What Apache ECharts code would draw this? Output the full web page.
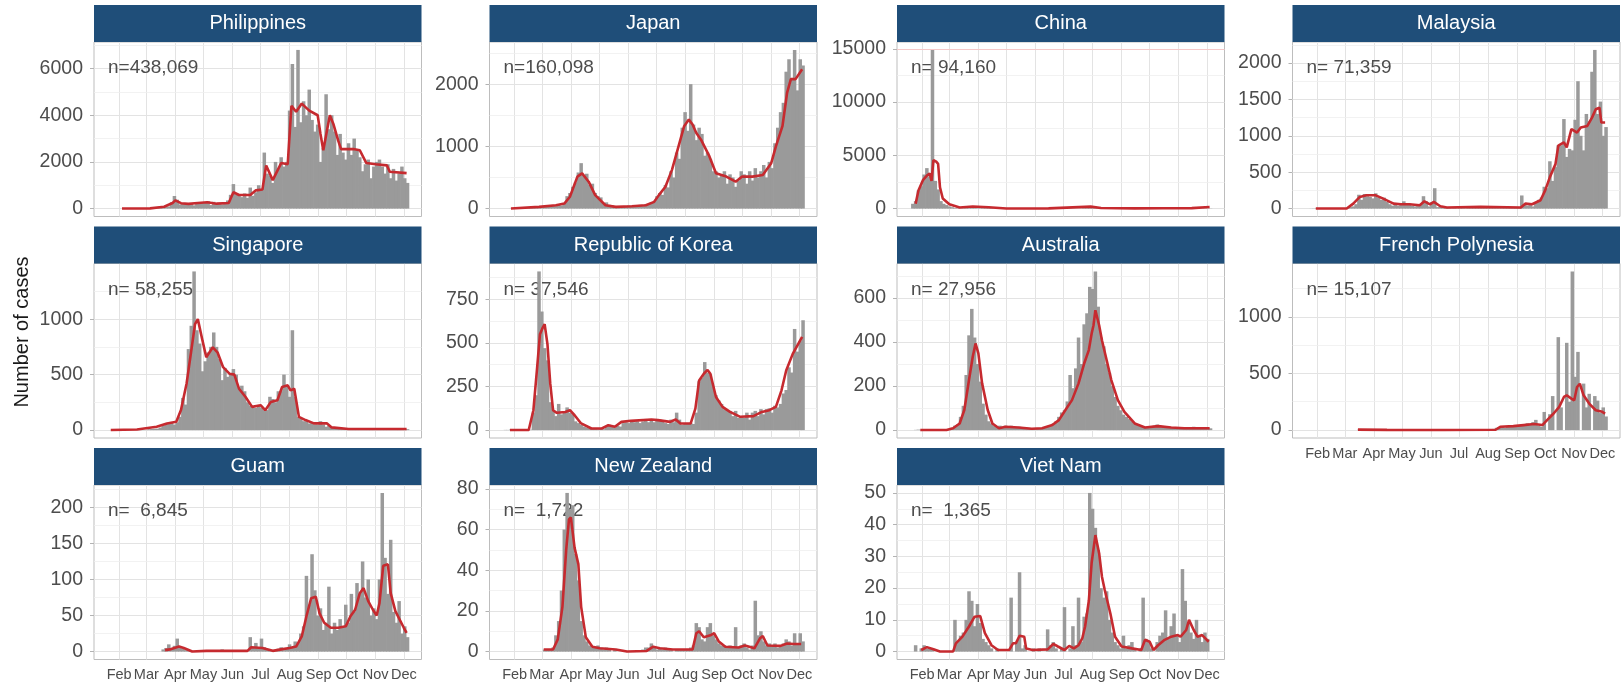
<!DOCTYPE html>
<html><head><meta charset="utf-8"><title>Daily COVID-19 cases</title>
<script src="https://cdn.jsdelivr.net/npm/echarts@6/dist/echarts.min.js"></script>
<style>html,body{margin:0;padding:0;background:#fff}#chart{width:1623px;height:685px}</style>
</head><body><div id="chart"></div>
<script>
// ---------------- DATA ----------------
const countries = ['Philippines','Japan','China','Malaysia','Singapore','Republic of Korea','Australia','French Polynesia','Guam','New Zealand','Viet Nam'];
const nLabels = ['n=438,069','n=160,098','n= 94,160','n= 71,359','n= 58,255','n= 37,546','n= 27,956','n= 15,107','n=  6,845','n=  1,722','n=  1,365'];
const dataFirstDate = '01-21', dataLastDate = '12-04';
const barStartDate = '01-22', barStepDays = 3;
const monthStarts = ['02-01','03-01','04-01','05-01','06-01','07-01','08-01','09-01','10-01','11-01','12-01'];
const monthLabels = ['Feb','Mar','Apr','May','Jun','Jul','Aug','Sep','Oct','Nov','Dec'];

const phBars = [0,0,0,0,0,0,0,0,0,0, 0,0,0,0,0,5,10,30,40,90, 70,90,270,540,380,180,210,230,180,210, 140,210,200,280,250,320,150,290,210,190, 180,260,350,590,1050,600,570,490,650,460, 900,550,700,1000,800,2400,1500,1400,1100,2000, 1700,2200,1800,2000,4200,6200,3500,6800,3700,4600, 4000,5100,3800,3300,3600,2000,2600,4900,3400,4000, 3300,2300,3200,2400,2100,2800,2300,3000,2500,2200, 1600,1900,2100,1300,1800,2000,2100,1800,1500,1900, 1300,1700,1200,1500,1800,1300,1100];
const jpBars = [0,0,1,2,1,0,2,3,6,10, 15,12,20,15,30,40,55,45,40,60, 50,90,200,250,350,420,580,730,520,560, 380,400,250,200,180,90,100,60,50,40, 30,25,30,40,50,40,30,50,60,40, 70,60,100,110,200,250,220,380,340,600, 500,900,800,1300,1550,1250,2000,1350,1100,1300, 1200,850,900,800,600,600,500,550,600,400, 550,500,350,450,600,550,400,600,450,650, 500,600,700,500,750,650,1050,1300,1550,1700, 2200,2400,2100,2550,1900,2400,2300];
const cnBars = [450,700,1700,2100,3200,3800,3000,14900,2600,1800, 700,450,330,200,130,60,30,20,30,60, 70,70,50,40,40,60,80,110,50,20, 10,10,5,5,3,3,5,10,5,8, 5,3,3,2,5,10,5,30,40,20, 25,15,10,8,5,5,10,5,5,10, 20,50,70,110,90,60,30,25,20,15, 15,10,10,10,8,10,10,8,10,10, 10,12,15,10,20,15,20,25,20,30, 20,25,30,25,35,30,25,20,15,20, 15,20,15,20,25,20,15];
const myBars = [0,1,2,3,1,0,0,0,0,1, 0,0,0,0,5,20,30,60,190,120, 200,170,160,140,210,150,120,150,90,60, 40,60,40,60,100,50,70,40,30,40, 50,170,100,30,90,280,20,30,20,10, 10,5,10,5,10,15,5,10,20,10, 15,10,20,20,10,15,20,10,15,20, 10,15,20,15,20,20,180,60,40,70, 30,80,120,150,300,280,650,380,570,870, 870,1230,710,820,800,1220,1750,1000,800,1300, 1200,1880,2180,1300,1470,1000,1120];
const sgBars = [0,2,3,4,3,2,3,2,1,1, 2,1,2,2,8,10,12,13,23,40, 50,60,70,50,70,120,290,230,730,940, 1430,900,780,530,620,700,750,880,750,640, 450,560,480,500,550,500,380,400,350,250, 220,200,200,220,200,180,180,300,280,250, 350,350,500,400,300,900,300,120,100,80, 80,60,70,50,50,80,50,30,40,20, 20,15,10,12,8,10,12,10,8,6, 10,8,6,10,8,12,8,6,10,8, 12,8,10,6,8,10,8];
const krBars = [1,1,3,2,1,3,0,1,1,2, 100,200,910,680,470,400,160,110,80,150, 90,100,130,100,90,50,40,30,20,15, 10,8,10,5,10,5,20,30,20,15, 25,20,40,45,40,50,45,50,40,50, 55,45,55,45,55,60,50,40,35,60, 45,100,60,30,35,35,40,35,100,280, 300,390,330,320,250,200,170,150,120,110, 110,80,110,70,80,70,100,60,100,110, 80,120,90,120,125,100,140,130,150,210, 230,360,330,580,450,510,630];
const auBars = [0,1,2,1,1,0,0,1,0,0, 0,1,2,5,10,20,25,60,110,250, 430,550,420,300,220,120,70,40,30,20, 15,20,15,20,15,20,12,10,15,10, 8,10,6,8,8,10,8,10,15,20, 30,40,60,80,90,130,250,190,280,420, 300,480,530,650,640,720,560,420,380,300, 260,200,150,110,90,70,60,50,40,30, 25,20,15,12,15,18,20,25,20,18, 15,12,12,10,10,8,10,8,10,12, 15,12,10,10,8,10,8];
const fpBars = [0,0,0,0,0,0,0,0,0,0, 0,0,0,0,0,0,0,0,3,5, 8,4,5,3,2,1,1,0,0,0, 0,0,0,0,0,0,0,0,0,0, 0,0,0,0,0,0,0,0,0,0, 0,0,0,0,0,0,0,0,0,0, 0,0,0,0,2,5,10,20,25,30, 20,35,40,30,45,35,50,40,60,45, 70,90,40,30,160,0,140,300,0,820, 200,0,770,250,1400,470,690,0,410,200, 320,0,300,260,150,200,120];
const guBars = [0,0,0,0,0,0,0,0,0,0, 0,0,0,0,0,0,0,0,0,3, 5,10,5,8,18,6,4,2,1,1, 0,0,1,0,0,1,0,0,1,0, 3,0,1,0,1,0,0,0,1,0, 20,6,12,4,18,6,3,2,1,2, 4,6,2,4,10,6,14,12,25,35, 105,65,135,85,50,60,30,40,90,25, 40,30,45,35,65,40,80,55,95,80, 125,75,100,50,60,45,100,220,130,80, 155,55,40,70,25,35,20];
const nzBars = [0,0,0,0,0,0,0,0,0,0, 0,0,0,0,1,1,1,2,8,15, 30,60,78,70,72,48,35,15,8,5, 3,2,2,3,2,1,2,1,0,1, 0,0,0,0,0,0,0,0,0,1, 2,2,4,2,1,2,1,2,1,1, 0,1,1,1,1,1,2,3,14,12, 6,5,12,14,8,6,4,3,3,2, 3,2,12,2,3,4,2,1,3,25, 8,10,5,3,4,3,4,2,3,4, 6,5,3,9,4,9,5];
const vnBars = [0,2,0,1,2,1,1,1,0,0, 0,0,0,0,0,10,3,5,6,10, 19,16,8,15,9,4,3,2,1,0, 1,0,0,0,0,17,0,3,25,1, 2,0,0,1,0,1,0,0,7,2, 3,1,0,1,14,0,1,8,2,17, 3,11,12,50,45,39,32,20,17,19, 10,6,3,2,1,5,1,2,3,1, 0,1,17,4,3,1,0,3,5,6, 13,4,8,12,5,3,26,16,9,6, 4,10,5,3,6,4,0];

const phLine = [['02-04',0],['03-05',10],['03-20',80],['03-29',240],['04-01',350],['04-07',230],['04-15',200],['04-25',240],['05-05',270],['05-15',210],['05-28',240],['06-02',700],['06-08',580],['06-20',580],['06-26',780],['07-03',820],['07-07',1850],['07-14',1220],['07-23',1950],['07-30',1900],['08-03',4400],['08-08',4150],['08-14',4500],['08-22',4200],['08-31',4000],['09-03',3200],['09-06',2500],['09-13',4000],['09-17',3600],['09-22',2900],['09-25',2550],['10-08',2550],['10-15',2500],['10-22',1950],['11-01',1900],['11-13',1850],['11-16',1580],['12-04',1520]];
const jpLine = [['01-28',0],['02-27',27],['03-16',54],['03-25',80],['03-31',190],['04-08',514],['04-13',565],['04-20',432],['04-27',216],['05-08',54],['05-19',27],['06-05',38],['06-20',54],['06-29',108],['07-04',216],['07-11',351],['07-18',622],['07-25',1000],['07-31',1324],['08-05',1430],['08-09',1351],['08-13',1216],['08-18',1108],['08-27',838],['09-03',568],['09-14',514],['09-24',432],['10-01',514],['10-12',514],['10-23',540],['11-01',730],['11-06',1000],['11-13',1324],['11-18',1865],['11-22',2081],['11-27',2081],['12-04',2240]];
const cnLine = [['01-25',450],['01-28',1700],['02-02',2700],['02-06',3100],['02-09',3300],['02-11',2600],['02-13',4550],['02-16',4400],['02-18',4200],['02-20',2000],['02-23',950],['03-01',400],['03-12',100],['03-26',200],['04-12',120],['05-01',10],['06-15',20],['07-30',180],['08-10',60],['09-15',20],['10-15',30],['11-15',40],['12-04',150]];
const myLine = [['01-30',0],['03-03',0],['03-10',68],['03-17',160],['03-24',182],['04-03',182],['04-11',136],['04-22',68],['04-30',59],['05-09',59],['05-20',45],['05-25',100],['05-31',59],['06-04',91],['06-11',32],['06-18',14],['07-24',23],['09-05',14],['09-10',68],['09-17',59],['09-26',114],['10-01',250],['10-06',432],['10-12',614],['10-15',864],['10-21',909],['10-24',841],['10-29',1091],['11-04',1045],['11-08',1114],['11-15',1136],['11-20',1250],['11-24',1364],['11-28',1386],['11-30',1182],['12-04',1182]];
const sgLine = [['01-23',0],['02-20',5],['03-12',30],['03-23',60],['04-02',75],['04-07',180],['04-13',420],['04-18',716],['04-22',955],['04-25',1000],['04-30',806],['05-04',657],['05-11',746],['05-16',701],['05-22',567],['05-29',507],['06-03',500],['06-08',373],['06-15',298],['06-22',209],['07-01',224],['07-06',179],['07-12',254],['07-19',269],['07-24',388],['07-30',403],['08-02',358],['08-06',373],['08-11',119],['08-18',90],['08-27',60],['09-10',60],['09-15',24],['10-03',10],['12-04',9]];
const krLine = [['01-27',0],['02-16',0],['02-21',114],['02-25',360],['02-28',550],['03-02',588],['03-04',607],['03-07',493],['03-10',266],['03-13',114],['03-17',99],['03-26',104],['03-31',114],['04-05',85],['04-12',38],['04-23',9],['05-04',9],['05-11',28],['05-18',19],['05-25',47],['06-04',53],['06-26',61],['07-03',57],['07-16',47],['07-22',61],['07-27',38],['08-07',38],['08-12',123],['08-16',285],['08-21',323],['08-25',345],['08-28',323],['09-03',190],['09-10',133],['09-18',104],['09-29',76],['10-13',80],['10-22',104],['10-30',114],['11-06',133],['11-12',228],['11-17',342],['11-24',437],['12-04',535]];
const auLine = [['01-30',0],['02-27',0],['03-05',8],['03-12',30],['03-17',91],['03-22',227],['03-26',333],['03-29',393],['04-01',348],['04-05',212],['04-11',91],['04-16',30],['04-23',8],['04-30',15],['05-14',12],['05-28',6],['06-08',8],['06-19',23],['06-26',45],['07-03',91],['07-10',136],['07-17',212],['07-23',302],['07-28',363],['07-31',438],['08-02',476],['08-04',544],['08-08',476],['08-11',408],['08-16',318],['08-21',227],['08-28',136],['09-04',83],['09-15',30],['09-26',12],['10-10',18],['10-24',12],['11-07',8],['12-04',8]];
const fpLine = [['03-15',4],['04-15',2],['06-15',1],['08-09',3],['08-14',29],['08-28',35],['09-08',44],['09-19',53],['09-28',44],['10-03',88],['10-10',146],['10-16',205],['10-21',292],['10-24',307],['10-29',278],['11-01',263],['11-04',380],['11-07',409],['11-11',307],['11-17',234],['11-24',175],['12-01',161],['12-04',146]];
const guLine = [['03-21',2],['03-26',3],['04-05',7],['04-10',5],['04-19',0],['05-04',1],['06-17',1],['06-21',6],['07-03',5],['07-14',1],['07-23',3],['08-01',5],['08-08',7],['08-14',21],['08-19',49],['08-24',74],['08-29',76],['09-02',53],['09-07',40],['09-14',33],['09-22',33],['09-30',35],['10-05',49],['10-10',58],['10-15',81],['10-19',88],['10-24',70],['10-29',58],['11-02',50],['11-05',67],['11-09',119],['11-14',121],['11-17',81],['11-22',56],['12-01',33],['12-04',26]];
const nzLine = [['03-03',1],['03-13',1],['03-18',6],['03-23',22],['03-27',50],['03-30',65],['04-01',66],['04-05',51],['04-09',43],['04-12',22],['04-17',7],['04-24',2.4],['05-02',1.6],['05-19',1],['05-31',0],['06-21',0.3],['06-28',2.4],['07-05',1.6],['07-19',1],['08-09',1],['08-13',9],['08-16',10],['08-21',7],['08-28',8],['09-01',9],['09-06',5],['09-13',2.4],['09-27',2],['10-04',3],['10-14',1.6],['10-20',6.5],['10-23',7.6],['10-28',3],['11-11',2.8],['11-18',4],['11-25',3.7],['12-03',3.7]];
const vnLine = [['01-31',0.5],['02-06',1.4],['02-13',0.7],['02-20',0],['03-05',0],['03-08',2.6],['03-15',4.7],['03-22',7.9],['03-28',11],['04-03',11.2],['04-08',5.8],['04-15',2],['04-22',0.5],['05-04',0.5],['05-08',2.6],['05-11',2.6],['05-15',5],['05-20',4.7],['05-22',1],['05-29',0.5],['06-14',0.7],['06-20',2.4],['06-25',1.6],['07-02',0.5],['07-07',1.8],['07-12',1],['07-17',2],['07-21',4.2],['07-24',7.9],['07-28',16],['07-31',28],['08-04',36.7],['08-08',31],['08-11',23.6],['08-14',19.4],['08-20',12],['08-25',4.7],['09-01',1.6],['09-12',1],['09-22',0.5],['09-26',3.7],['10-01',3.1],['10-05',0.5],['10-10',2],['10-17',3.7],['10-24',4.7],['10-31',5.2],['11-03',4.7],['11-09',6.8],['11-12',10],['11-17',6.8],['11-21',4.7],['11-26',5.2],['12-03',3.1]];

const phTicks = [0,2000,4000,6000];
const jpTicks = [0,1000,2000];
const cnTicks = [0,5000,10000,15000];
const myTicks = [0,500,1000,1500,2000];
const sgTicks = [0,500,1000];
const krTicks = [0,250,500,750];
const auTicks = [0,200,400,600];
const fpTicks = [0,500,1000];
const guTicks = [0,50,100,150,200];
const nzTicks = [0,20,40,60,80];
const vnTicks = [0,10,20,30,40,50];

// ---------------- BUILD ----------------
const allBars = [phBars,jpBars,cnBars,myBars,sgBars,krBars,auBars,fpBars,guBars,nzBars,vnBars];
const allLines = [phLine,jpLine,cnLine,myLine,sgLine,krLine,auLine,fpLine,guLine,nzLine,vnLine];
const allTicks = [phTicks,jpTicks,cnTicks,myTicks,sgTicks,krTicks,auTicks,fpTicks,guTicks,nzTicks,vnTicks];

function dayOf(md){ const [m,d] = md.split('-').map(Number); return (Date.UTC(2020,m-1,d)-Date.UTC(2020,0,1))/86400000; }
const FONT = "'Liberation Sans', Arial, sans-serif";
const COL_LEFT = [94, 489.5, 897, 1292.5], COL_W = 327.5;
const ROW_TOP = [42, 263.5, 485], ROW_H = 174.5, STRIP_H = 37;

const d0 = dayOf(dataFirstDate), d1 = dayOf(dataLastDate), pad = 0.05*(d1-d0);
const xMin = d0 - pad, xMax = d1 + pad;
const monthDays = monthStarts.map(dayOf);
const barStart = dayOf(barStartDate);
const barW = barStepDays * COL_W / (xMax - xMin) + 0.7;

const grids=[], xAxes=[], yAxes=[], series=[], graphics=[];
countries.forEach((name,k)=>{
  const col = k%4, row = Math.floor(k/4);
  const left = COL_LEFT[col], top = ROW_TOP[row];
  const bars = allBars[k], line = allLines[k], ticks = allTicks[k];
  const M = Math.max(...bars, ...line.map(q=>q[1]));
  const yMin = -0.05*M, yMax = 1.05*M;
  const step = ticks[1]-ticks[0];
  const minors = []; for (let t=step/2; t<=yMax; t+=step) minors.push(t);
  grids.push({left, top, width: COL_W, height: ROW_H, show:true, borderColor:'#bdbdbd', borderWidth:1, backgroundColor:'#fff'});
  const showX = k + 4 >= countries.length;
  xAxes.push({type:'value', gridIndex:k, min:xMin, max:xMax, splitLine:{show:false}, axisLine:{show:false},
    axisTick:{show:false},
    axisLabel:{show:showX, customValues: monthDays, showMinLabel:true, showMaxLabel:true, hideOverlap:false,
      margin:8, color:'#4d4d4d', fontSize:14.5, fontFamily:FONT,
      formatter: v => { const i = monthDays.indexOf(v); return i>=0 ? monthLabels[i] : ''; }}});
  yAxes.push({type:'value', gridIndex:k, min:yMin, max:yMax, splitLine:{show:false}, axisLine:{show:false},
    axisTick:{show:true, length:4, customValues: ticks, lineStyle:{color:'#b3b3b3'}},
    axisLabel:{customValues: ticks, showMinLabel:true, showMaxLabel:true, margin:11, color:'#4d4d4d', fontSize:19.5, fontFamily:FONT,
      formatter: v => String(v)}});
  const gl = [];
  monthDays.forEach(d=>gl.push({xAxis:d, lineStyle:{color:'#e3e3e3', width:1, type:'solid'}}));
  minors.forEach(v=>gl.push({yAxis:v, lineStyle:{color:'#efefef', width:0.8, type:'solid'}}));
  ticks.forEach(v=>gl.push({yAxis:v, lineStyle:{color:(name==='China' && v===15000)?'#f6c9c9':'#e3e3e3', width:1, type:'solid'}}));
  series.push({type:'line', xAxisIndex:k, yAxisIndex:k, data:[[xMin,0]], symbol:'none', lineStyle:{opacity:0}, silent:true, z:1,
    markLine:{silent:true, symbol:['none','none'], label:{show:false}, animation:false, z:1, data: gl}});
  series.push({type:'bar', xAxisIndex:k, yAxisIndex:k, data: bars.map((v,i)=>[barStart + barStepDays*i, v]),
    barWidth: barW, itemStyle:{color:'#9a9a9a'}, silent:true, z:3, animation:false});
  series.push({type:'line', xAxisIndex:k, yAxisIndex:k, data: line.map(q=>[dayOf(q[0]), q[1]]),
    showSymbol:false, symbol:'none', lineStyle:{color:'#c62a2f', width:2.6}, silent:true, z:4, animation:false});
  graphics.push({type:'rect', shape:{x:left, y:top-STRIP_H, width:COL_W, height:STRIP_H}, style:{fill:'#1f4e79'}, z:5});
  graphics.push({type:'text', x:left+COL_W/2, y:top-STRIP_H/2, style:{text:name, fill:'#ffffff', font:'20px '+FONT, align:'center', verticalAlign:'middle'}, z:6});
  graphics.push({type:'text', x:left+14, y:top+26, style:{text:nLabels[k], fill:'#4d4d4d', font:'19px '+FONT, align:'left', verticalAlign:'middle'}, z:2});
});
graphics.push({type:'text', x:22, y:332, rotation:Math.PI/2, style:{text:'Number of cases', fill:'#1a1a1a', font:'20px '+FONT, align:'center', verticalAlign:'middle'}, z:6});

const chart = echarts.init(document.getElementById('chart'), null, {renderer:'canvas', width:1623, height:685});
chart.setOption({animation:false, backgroundColor:'#fff', grid:grids, xAxis:xAxes, yAxis:yAxes, series, graphic:graphics});
</script></body></html>
